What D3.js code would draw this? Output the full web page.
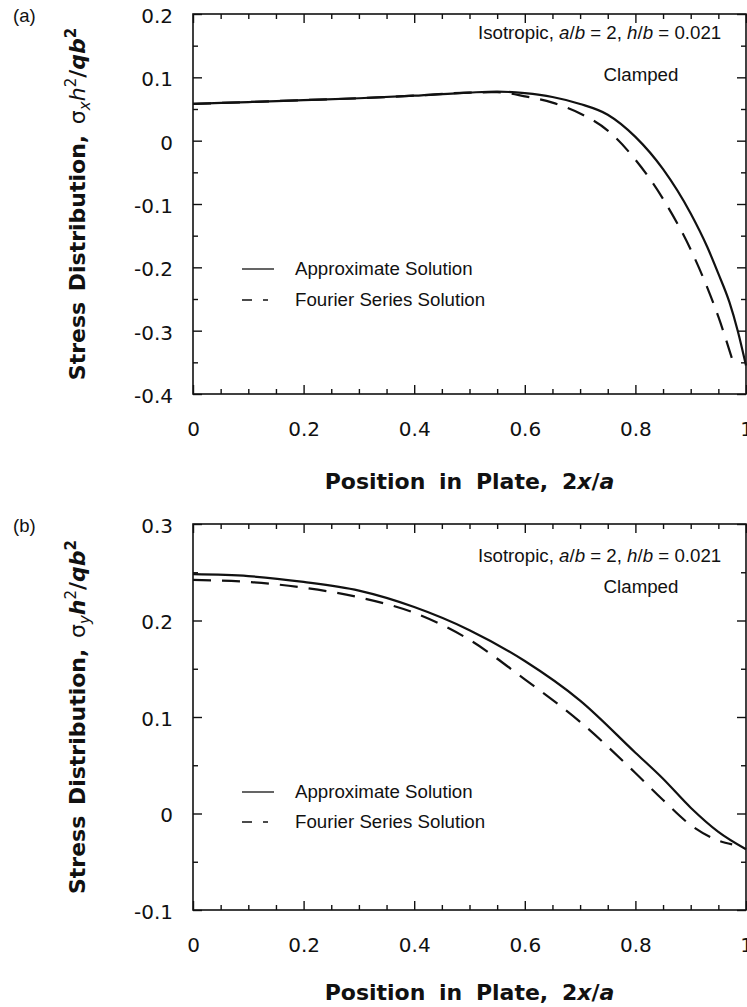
<!DOCTYPE html>
<html>
<head>
<meta charset="utf-8">
<script src="https://cdn.jsdelivr.net/npm/d3@7"></script>
<style>
  html, body { margin: 0; padding: 0; background: #fff; }
  svg { display: block; }
</style>
</head>
<body>
<svg id="chart" width="747" height="1007"></svg>
<script>
// ---------------- DATA ----------------
const xTickValues = [0, 0.2, 0.4, 0.6, 0.8, 1];
const xTickLabels = ["0", "0.2", "0.4", "0.6", "0.8", "1"];

// Panel (a): sigma_x
const yTickValuesA = [0.2, 0.1, 0, -0.1, -0.2, -0.3, -0.4];
const yTickLabelsA = ["0.2", "0.1", "0", "-0.1", "-0.2", "-0.3", "-0.4"];
const approxXA = [0, 0.1, 0.2, 0.3, 0.4, 0.5, 0.55, 0.6, 0.65, 0.7, 0.75, 0.8, 0.85, 0.9, 0.93, 0.95, 0.97, 0.985, 1.0];
const approxYA = [0.058, 0.061, 0.064, 0.067, 0.071, 0.076, 0.0775, 0.075, 0.069, 0.058, 0.041, 0.006, -0.045, -0.115, -0.168, -0.21, -0.255, -0.30, -0.355];
const fourierXA = [0, 0.1, 0.2, 0.3, 0.4, 0.5, 0.55, 0.6, 0.65, 0.7, 0.75, 0.8, 0.85, 0.9, 0.93, 0.95, 0.975];
const fourierYA = [0.058, 0.061, 0.064, 0.067, 0.071, 0.076, 0.0765, 0.070, 0.060, 0.043, 0.016, -0.030, -0.092, -0.172, -0.232, -0.278, -0.345];

// Panel (b): sigma_y
const yTickValuesB = [0.3, 0.2, 0.1, 0, -0.1];
const yTickLabelsB = ["0.3", "0.2", "0.1", "0", "-0.1"];
const approxXB = [0, 0.1, 0.2, 0.3, 0.4, 0.5, 0.6, 0.7, 0.8, 0.85, 0.9, 0.95, 1.0];
const approxYB = [0.248, 0.246, 0.240, 0.231, 0.214, 0.190, 0.158, 0.117, 0.063, 0.036, 0.006, -0.019, -0.037];
const fourierXB = [0, 0.1, 0.2, 0.3, 0.4, 0.5, 0.6, 0.7, 0.8, 0.85, 0.9, 0.95, 0.975];
const fourierYB = [0.242, 0.240, 0.234, 0.224, 0.208, 0.180, 0.139, 0.095, 0.042, 0.014, -0.012, -0.028, -0.032];

const seriesNames = ["Approximate Solution", "Fourier Series Solution"];
const panelLabels = ["(a)", "(b)"];
const subscriptLabels = ["x", "y"];

// ---------------- DRAW ----------------
const svg = d3.select("#chart");
const NUM = "'DejaVu Sans', Verdana, sans-serif";
const HEL = "'Liberation Sans', Arial, Helvetica, sans-serif";

function zip(xs, ys) { return xs.map((x, i) => ({ x: x, y: ys[i] })); }

function drawPanel(p) {
  const g = svg.append("g");
  const x = d3.scaleLinear().domain([0, 1]).range([193, 746]);
  const y = d3.scaleLinear().domain(p.yDomain).range(p.yRange);
  const top = p.yRange[1], bottom = p.yRange[0];
  const majorLen = 9, minorLen = 5;

  const xMinor = d3.range(0, 1.0001, 0.05).filter(v => Math.abs(Math.round(v * 5) - v * 5) > 1e-6);
  const yMinor = d3.range(p.yDomain[0], p.yDomain[1] + 1e-6, 0.05)
    .filter(v => Math.abs(Math.round(v * 10) - v * 10) > 1e-6);

  function style(sel) {
    sel.select(".domain").remove();
    sel.selectAll(".tick line").attr("stroke", "#111").attr("stroke-width", 1.4);
    sel.selectAll(".tick text").attr("fill", "#111").style("font-family", NUM).style("font-size", "20px");
  }

  // bottom major with labels
  g.append("g").attr("transform", `translate(0,${bottom})`)
    .call(d3.axisBottom(x).tickValues(xTickValues).tickSizeInner(-majorLen).tickSizeOuter(0)
      .tickPadding(28).tickFormat((d, i) => xTickLabels[i]))
    .call(style);
  g.append("g").attr("transform", `translate(0,${bottom})`)
    .call(d3.axisBottom(x).tickValues(xMinor).tickSizeInner(-minorLen).tickSizeOuter(0).tickFormat(""))
    .call(style);
  // top
  g.append("g").attr("transform", `translate(0,${top})`)
    .call(d3.axisTop(x).tickValues(xTickValues).tickSizeInner(-majorLen).tickSizeOuter(0).tickFormat(""))
    .call(style);
  g.append("g").attr("transform", `translate(0,${top})`)
    .call(d3.axisTop(x).tickValues(xMinor).tickSizeInner(-minorLen).tickSizeOuter(0).tickFormat(""))
    .call(style);
  // left major with labels
  const left = g.append("g").attr("transform", `translate(193,0)`)
    .call(d3.axisLeft(y).tickValues(p.yTicks).tickSizeInner(-majorLen).tickSizeOuter(0)
      .tickPadding(20).tickFormat((d, i) => p.yLabels[i]))
    .call(style);
  left.selectAll(".tick text").attr("dy", "0.42em");
  g.append("g").attr("transform", `translate(193,0)`)
    .call(d3.axisLeft(y).tickValues(yMinor).tickSizeInner(-minorLen).tickSizeOuter(0).tickFormat(""))
    .call(style);
  // right
  g.append("g").attr("transform", `translate(746,0)`)
    .call(d3.axisRight(y).tickValues(p.yTicks).tickSizeInner(-majorLen).tickSizeOuter(0).tickFormat(""))
    .call(style);
  g.append("g").attr("transform", `translate(746,0)`)
    .call(d3.axisRight(y).tickValues(yMinor).tickSizeInner(-minorLen).tickSizeOuter(0).tickFormat(""))
    .call(style);

  // frame
  g.append("rect").attr("x", 193).attr("y", top).attr("width", 746 - 193).attr("height", bottom - top)
    .attr("fill", "none").attr("stroke", "#111").attr("stroke-width", 1.6);

  // curves
  const line = d3.line().x(d => x(d.x)).y(d => y(d.y)).curve(d3.curveMonotoneX);
  g.append("path").datum(zip(p.fx, p.fy)).attr("d", line)
    .attr("fill", "none").attr("stroke", "#111").attr("stroke-width", 2.2)
    .attr("stroke-dasharray", "18,11");
  g.append("path").datum(zip(p.ax, p.ay)).attr("d", line)
    .attr("fill", "none").attr("stroke", "#111").attr("stroke-width", 2.2);

  // panel label
  g.append("text").attr("x", 13).attr("y", p.labelY).text(p.label)
    .style("font-family", HEL).style("font-size", "18.5px").attr("fill", "#111");

  // y title
  const yt = g.append("text")
    .attr("transform", `translate(85,${(top + bottom) / 2}) rotate(-90)`)
    .attr("text-anchor", "middle").attr("fill", "#111")
    .style("font-family", NUM).style("font-size", "22px");
  yt.append("tspan").text("Stress  Distribution, ").style("font-weight", "bold").style("word-spacing", "3px");
  yt.append("tspan").text("σ");
  yt.append("tspan").text(p.sub).style("font-style", "italic").style("font-size", "15px").attr("dy", 5);
  yt.append("tspan").text("h").style("font-style", "italic").style("font-weight", p.hBold ? "bold" : "normal").attr("dy", -5);
  yt.append("tspan").text("2").style("font-size", "15px").attr("dy", -9);
  yt.append("tspan").text("/").style("font-weight", "bold").attr("dy", 9);
  yt.append("tspan").text("qb").style("font-weight", "bold").style("font-style", "italic");
  yt.append("tspan").text("2").style("font-size", "15px").style("font-weight", "bold").attr("dy", -9);

  // x title
  const xt = g.append("text").attr("x", 469.5).attr("y", p.xTitleY)
    .attr("text-anchor", "middle").attr("fill", "#111")
    .style("font-family", NUM).style("font-size", "22px").style("font-weight", "bold")
    .style("word-spacing", "6px");
  xt.append("tspan").text("Position in Plate, 2");
  xt.append("tspan").text("x").style("font-style", "italic");
  xt.append("tspan").text("/");
  xt.append("tspan").text("a").style("font-style", "italic");

  // annotation
  const an = g.append("text").attr("x", 478).attr("y", p.annoY).attr("fill", "#111")
    .style("font-family", HEL).style("font-size", "18.7px");
  an.append("tspan").text("Isotropic, ");
  an.append("tspan").text("a").style("font-style", "italic");
  an.append("tspan").text("/");
  an.append("tspan").text("b").style("font-style", "italic");
  an.append("tspan").text(" = 2, ");
  an.append("tspan").text("h").style("font-style", "italic");
  an.append("tspan").text("/");
  an.append("tspan").text("b").style("font-style", "italic");
  an.append("tspan").text(" = 0.021");
  g.append("text").attr("x", 641).attr("y", p.clampY).attr("text-anchor", "middle").attr("fill", "#111")
    .style("font-family", HEL).style("font-size", "18.7px").text("Clamped");

  // legend
  g.append("line").attr("x1", 242).attr("x2", 274).attr("y1", p.leg1Y - 6).attr("y2", p.leg1Y - 6)
    .attr("stroke", "#111").attr("stroke-width", 1.3);
  g.append("text").attr("x", 295).attr("y", p.leg1Y).attr("fill", "#111")
    .style("font-family", HEL).style("font-size", "18.7px").text(seriesNames[0]);
  g.append("line").attr("x1", 242).attr("x2", 268).attr("y1", p.leg2Y - 6).attr("y2", p.leg2Y - 6)
    .attr("stroke", "#111").attr("stroke-width", 1.3).attr("stroke-dasharray", "10,11");
  g.append("text").attr("x", 295).attr("y", p.leg2Y).attr("fill", "#111")
    .style("font-family", HEL).style("font-size", "18.7px").text(seriesNames[1]);
}

drawPanel({
  yDomain: [-0.4, 0.2], yRange: [394, 14], yTicks: yTickValuesA, yLabels: yTickLabelsA,
  ax: approxXA, ay: approxYA, fx: fourierXA, fy: fourierYA,
  label: panelLabels[0], labelY: 22, sub: subscriptLabels[0], hBold: false,
  xTitleY: 489, annoY: 39, clampY: 81, leg1Y: 275, leg2Y: 306
});
drawPanel({
  yDomain: [-0.1, 0.3], yRange: [910, 524], yTicks: yTickValuesB, yLabels: yTickLabelsB,
  ax: approxXB, ay: approxYB, fx: fourierXB, fy: fourierYB,
  label: panelLabels[1], labelY: 532, sub: subscriptLabels[1], hBold: true,
  xTitleY: 1000, annoY: 562, clampY: 593, leg1Y: 798, leg2Y: 828
});
</script>
</body>
</html>
